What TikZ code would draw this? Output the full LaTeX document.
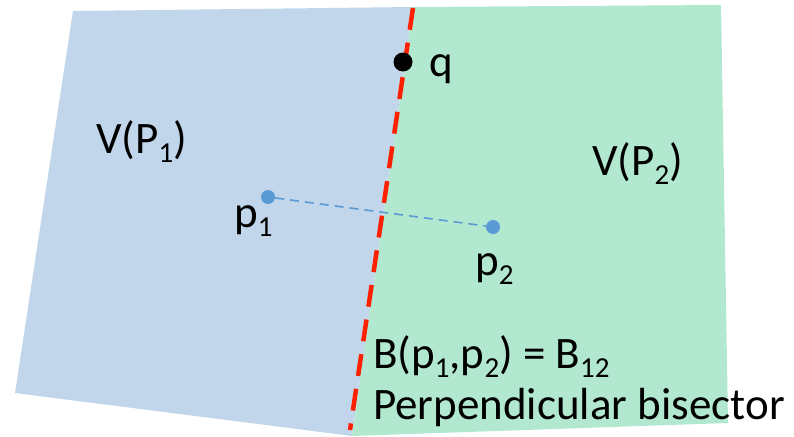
\documentclass[tikz,border=0pt]{standalone}
\usepackage{fontspec}
\setmainfont{Carlito}
\usetikzlibrary{calc}
\definecolor{cellblue}{RGB}{193,214,234}
\definecolor{cellgreen}{RGB}{179,232,208}
\definecolor{sitecol}{RGB}{91,155,213}
\definecolor{bisred}{RGB}{255,32,0}
\tikzset{
  cellA/.style={fill=cellblue,draw=none},                 % V(P1)
  cellB/.style={fill=cellgreen,draw=none},                % V(P2)
  site/.style={circle,fill=sitecol,inner sep=0pt,minimum size=14pt},
  qpt/.style={circle,fill=black,inner sep=0pt,minimum size=19pt},
  bis/.style={bisred,line width=4.5pt,dash pattern=on 22pt off 13pt},
  seg/.style={sitecol,line width=1.6pt,dash pattern=on 9pt off 6pt},
  lbl/.style={inner sep=0pt,anchor=base west,font=\fontsize{45}{51}\selectfont},
}
\newcommand{\lowsub}[1]{\raisebox{-0.2em}{\fontsize{29}{29}\selectfont #1}}

\begin{document}
\begin{tikzpicture}[x=1pt,y=-1pt]
  \useasboundingbox (0,0) rectangle (794,436);
  % the two cells
  \coordinate (btop) at (413,7);
  \coordinate (bbot) at (352,436);
  \fill[cellA] (73,11) -- (btop) -- (bbot) -- (15,393) -- cycle;
  \fill[cellB] (btop) -- (721,5) -- (728,423) -- (bbot) -- cycle;
  % bisector
  \coordinate (rtop) at (413,8);
  \coordinate (rbot) at (350,430);
  \draw[bis] (rtop) -- (rbot);
  % sites and q
  \node[site] (p1) at (268,197) {};
  \node[site] (p2) at (493,227) {};
  \draw[seg] (p1) -- (p2);
  \node[qpt] (q) at (403,62) {};
  % labels
  \node[lbl] (qlbl) at (429,76) {q};
  \node[lbl] (v1) at (96,153) {V(P\lowsub{1})};
  \node[lbl] (v2) at (592,175) {V(P\lowsub{2})};
  \node[lbl] (l1) at (234,227) {p\lowsub{1}};
  \node[lbl] (l2) at (475,275) {p\lowsub{2}};
  \node[lbl] (bdef) at (373,368) {B(p\lowsub{1},p\lowsub{2}) = B\lowsub{12}};
  \node[lbl] (bname) at (373,419) {Perpendicular bisector};
\end{tikzpicture}
\end{document}
